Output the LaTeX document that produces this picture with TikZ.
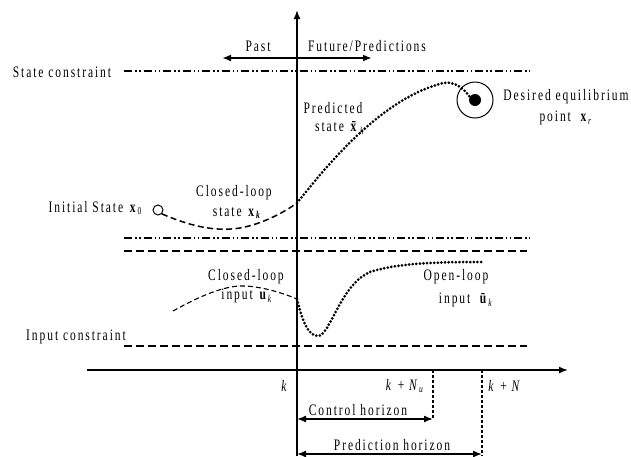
\documentclass[tikz,border=0pt]{standalone}
\usepackage{fontspec}
\setmainfont{Liberation Serif}[FakeStretch=0.72, LetterSpace=12]
\usetikzlibrary{arrows.meta}
\newcommand\vb[1]{\textbf{#1}}
\newcommand\lowsub[1]{\raisebox{-0.4ex}{\fontsize{10.5}{10.5}\selectfont #1}}
\begin{document}
\begin{tikzpicture}[x=1pt,y=-1pt,
  every node/.style={font=\fontsize{16}{18}\selectfont, inner sep=0pt},
  axis/.style={line width=1.6pt},
  tip/.style={-{Latex[length=9pt,width=7pt]}},
  dtip/.style={{Latex[length=9pt,width=7pt]}-{Latex[length=9pt,width=7pt]}},
  dashdot/.style={line width=1.3pt, dash pattern=on 8pt off 3pt on 1.5pt off 2.5pt on 1.5pt off 3pt},
  limit/.style={line width=1.3pt, dash pattern=on 8pt off 4pt},
  thindash/.style={line width=1.1pt, dash pattern=on 5pt off 3pt},
  pred/.style={line width=3pt, line cap=round, dash pattern=on 0pt off 3.6pt},
  guide/.style={line width=1.2pt, dash pattern=on 3pt off 2pt},
  closed/.style={line width=1.5pt, dash pattern=on 6pt off 3.5pt}]
\useasboundingbox (0,0) rectangle (631,456);

% axes
\coordinate (vb) at (297,456);
\coordinate (vt) at (297,10);
\coordinate (hl) at (87,370);
\coordinate (hr) at (568,370);
\draw[axis,tip] (vb) -- (vt);
\draw[axis,tip] (hl) -- (hr);

% past / future arrow
\coordinate (pa) at (222,58);
\coordinate (fu) at (372,58);
\draw[line width=1.8pt,dtip] (pa) -- (fu);
\node (past) at (258,46) {Past};
\node (future) at (367,46) {Future/Predictions};

% constraints
\coordinate (sc1) at (124,71);  \coordinate (sc2) at (530,71);
\coordinate (sl1) at (124,238); \coordinate (sl2) at (530,238);
\coordinate (ul1) at (124,251); \coordinate (ul2) at (527,251);
\coordinate (il1) at (124,346); \coordinate (il2) at (527,346);
\draw[dashdot] (sc1) -- (sc2);
\draw[dashdot] (sl1) -- (sl2);
\draw[limit] (ul1) -- (ul2);
\draw[limit] (il1) -- (il2);
\node (sclab) at (62,72) {State constraint};
\node (iclab) at (76,337) {Input constraint};

% state trajectories
\node[draw,circle,line width=1pt,minimum size=10pt] (x0) at (158,210) {};
\coordinate (xk) at (297,203);
\draw[closed] (x0.south east) .. controls (190,226) and (215,232) .. (240,228)
  .. controls (262,224) and (283,213) .. (xk);
\node[draw,circle,line width=1pt,minimum size=36pt] (xr) at (475,100) {};
\fill (xr.center) circle (6pt);
\draw[pred] (xk) .. controls (335,155) and (385,98) .. (443,83)
  .. controls (455,81) and (463,88) .. (470,97);

\node (init) at (95,208) {Initial State \vb{x}\lowsub{0}};
\node (cl1) at (234,193) {Closed-loop};
\node (cl2) at (237,213) {state \vb{x}\lowsub{\vb{\textit{k}}}};
\node (pr1) at (333,108) {Predicted};
\node (pr2) at (340,128) {state \vb{\=x}\lowsub{\textit{k}}};
\node (de1) at (566,97) {Desired equilibrium};
\node (de2) at (566,118) {point \ \vb{x}\lowsub{\textit{r}}};

% input trajectories
\coordinate (ui) at (173,311);
\coordinate (uk) at (297,299);
\coordinate (ue) at (482,262);
\draw[thindash] (ui) .. controls (200,296) and (225,285) .. (245,286)
  .. controls (265,287) and (285,294) .. (uk);
\draw[pred] (uk) .. controls (302,320) and (308,336) .. (318,336)
  .. controls (330,336) and (340,285) .. (370,272)
  .. controls (400,262) and (450,262) .. (ue);
\node (ci1) at (246,277) {Closed-loop};
\node (ci2) at (247,296) {input \vb{u}\lowsub{\textit{k}}};
\node (oi1) at (456,277) {Open-loop};
\node (oi2) at (466,300) {input \ \vb{\=u}\lowsub{\textit{k}}};

% horizons
\coordinate (nu) at (433,370);  \coordinate (nub) at (433,419);
\coordinate (nn) at (482,370);  \coordinate (nnb) at (482,456);
\draw[guide] (nu) -- (nub);
\draw[guide] (nn) -- (nnb);
\coordinate (ch0) at (297,419);
\coordinate (ph0) at (297,454); \coordinate (ph1) at (482,454);
\draw[line width=1.5pt,dtip] (ch0) -- (nub);
\draw[line width=1.5pt,dtip] (ph0) -- (ph1);
\node (k) at (285,386) {\textit{k}};
\node (knu) at (405,386) {\textit{k} + \textit{N}\lowsub{\textit{u}}};
\node (kn) at (505,386) {\textit{k} + \textit{N}};
\node (chl) at (358,410) {Control horizon};
\node (phl) at (392,445) {Prediction horizon};
\end{tikzpicture}
\end{document}
